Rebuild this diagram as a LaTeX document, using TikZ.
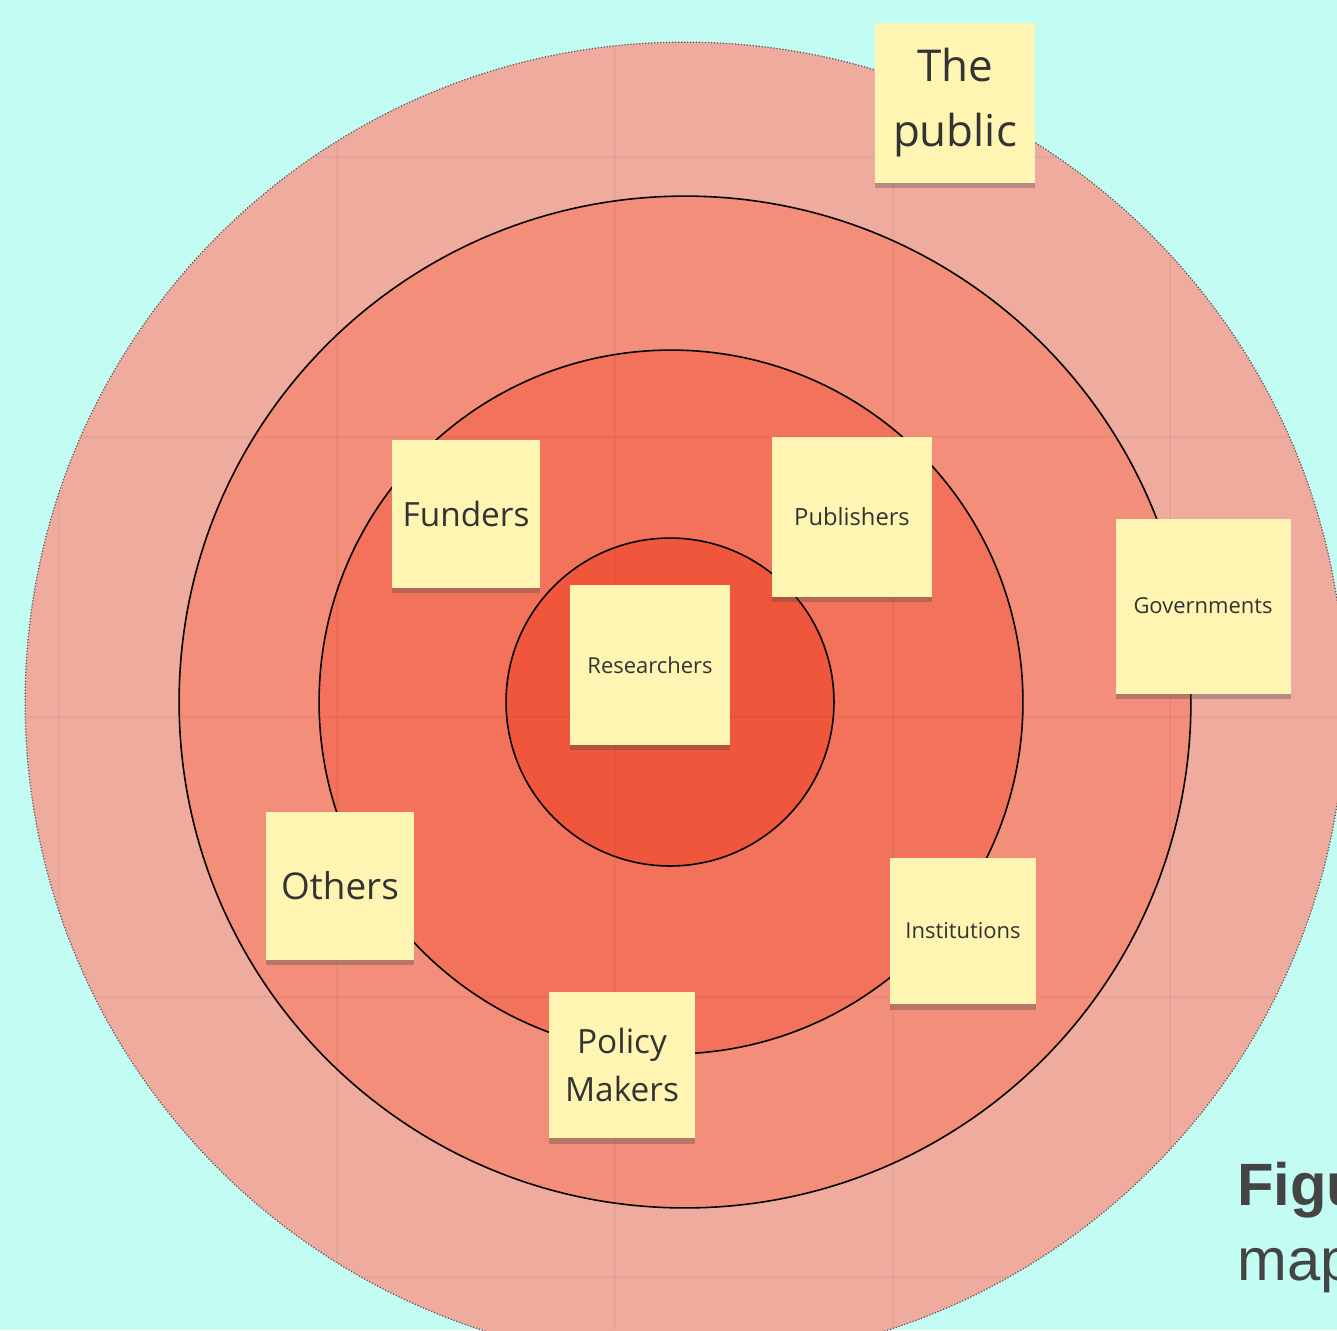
\documentclass[tikz,border=0pt]{standalone}
\usepackage{fontspec}
\setmainfont{Open Sans}
\newfontfamily\figfont{Liberation Sans}
\usetikzlibrary{shadows}
\definecolor{bgcyan}{HTML}{C2FCF3}
\definecolor{ringa}{HTML}{F0AB9F}
\definecolor{ringb}{HTML}{F28E7A}
\definecolor{ringc}{HTML}{F2725C}
\definecolor{ringd}{HTML}{F0563B}
\definecolor{notefill}{HTML}{FFF5B2}
\definecolor{notetext}{HTML}{333333}
\definecolor{figtext}{HTML}{444444}
\tikzset{
  ring/.style={draw=black, line width=0.9pt},
  gridline/.style={draw=black, opacity=0.04, line width=0.8pt},
  note/.style={fill=notefill, minimum width=#1, minimum height=#1, inner sep=2pt, align=center, text=notetext,
    drop shadow={shadow xshift=0pt, shadow yshift=-3pt, opacity=0.35, fill=black!70}},
  bigtext/.style={font=\fontsize{19}{27}\selectfont},
  smalltext/.style={font=\fontsize{12.5}{15}\selectfont},
  figlabel/.style={anchor=base west, inner sep=0pt, text=figtext}
}

\begin{document}
\begin{tikzpicture}[x=0.02cm, y=-0.02cm]
\useasboundingbox (0,0) rectangle (1337,1330);
\clip (0,0) rectangle (1337,1330);
\fill[bgcyan] (0,0) rectangle (1337,1330);

% target rings
\fill[ringa] (685,702) circle[radius=13.2cm];
\fill[ringb] (685,702) circle[radius=10.12cm];
\fill[ringc] (671,702) circle[radius=7.04cm];
\fill[ringd] (670,702) circle[radius=3.28cm];

% faint board grid
\begin{scope}
  \clip (685,702) circle[radius=13.2cm];
  \foreach \gx in {59,337,615,893,1170} \draw[gridline] (\gx,0) -- (\gx,1330);
  \foreach \gy in {157,437,717,997,1277} \draw[gridline] (0,\gy) -- (1337,\gy);
\end{scope}

\draw[black!65, densely dotted, line width=0.7pt] (685,702) circle[radius=13.2cm];
\draw[ring] (685,702) circle[radius=10.12cm];
\draw[ring] (671,702) circle[radius=7.04cm];
\draw[ring] (670,702) circle[radius=3.28cm];

% sticky notes
\node[note=3.2cm, font=\fontsize{25}{37}\selectfont] (public) at (955,103) {The\\public};
\node[note=2.95cm, bigtext] (funders) at (466,514) {Funders};
\node[note=3.2cm, smalltext, font=\fontsize{13.5}{16}\selectfont] (publishers) at (852,517) {Publishers};
\node[note=3.2cm, smalltext] (researchers) at (650,665) {Researchers};
\node[note=3.5cm, smalltext] (governments) at (1203,606) {Governments};
\node[note=2.95cm, bigtext, font=\fontsize{21}{27}\selectfont] (others) at (340,886) {Others};
\node[note=2.93cm, smalltext] (institutions) at (963,931) {Institutions};
\node[note=2.93cm, bigtext] (policy) at (622,1065) {Policy\\Makers};

% caption cut by the page edge
\node[figlabel, font=\figfont\bfseries\fontsize{34}{40}\selectfont] (figword) at (1237,1205) {Figure};
\node[figlabel, font=\figfont\fontsize{34}{40}\selectfont] (mapword) at (1237,1280) {map};
\end{tikzpicture}
\end{document}
